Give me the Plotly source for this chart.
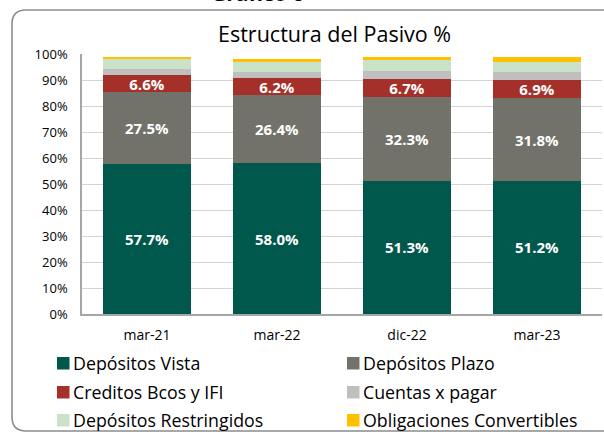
import plotly.graph_objects as go

# ---- data ----
categories = ["mar-21", "mar-22", "dic-22", "mar-23"]
series_names = ["Depósitos Vista", "Depósitos Plazo", "Creditos Bcos y IFI",
                "Cuentas x pagar", "Depósitos Restringidos", "Obligaciones Convertibles"]
depositos_vista = [57.7, 58.0, 51.3, 51.2]
depositos_plazo = [27.5, 26.4, 32.3, 31.8]
creditos_bcos = [6.6, 6.2, 6.7, 6.9]
cuentas_pagar = [2.3, 2.4, 3.3, 3.1]
depositos_restringidos = [3.9, 3.9, 4.0, 3.9]
obligaciones_convertibles = [0.8, 1.1, 1.3, 1.8]
y_ticks = [0, 10, 20, 30, 40, 50, 60, 70, 80, 90, 100]

values = [depositos_vista, depositos_plazo, creditos_bcos, cuentas_pagar,
          depositos_restringidos, obligaciones_convertibles]
colors = ["#00574B", "#72726A", "#A5302A", "#BFBFBF", "#C9E2C8", "#FFC000"]
labelled = [True, True, True, False, False, False]

FONT = "Open Sans"
W, H = 604, 437
L, R, T, B = 82, 2, 54, 123
PW, PH = W - L - R, H - T - B


def px(x):
    return (x - L) / PW


def py(y):
    return (H - B - y) / PH


fig = go.Figure()
for name, vals, col, lab in zip(series_names, values, colors, labelled):
    fig.add_trace(go.Bar(
        x=categories, y=vals, name=name,
        marker=dict(color=col, line=dict(width=0)),
        text=[f"{v:.1f}%" for v in vals] if lab else None,
        textposition="inside" if lab else "none",
        insidetextanchor="middle",
        textangle=0,
        constraintext="none",
        textfont=dict(family=FONT, size=15, color="white", weight="bold"),
        hoverinfo="name+y",
        showlegend=False,
    ))

# rounded border frame
x0, x1 = px(12), px(612)
y0, y1 = py(431), py(10)
rx, ry = 14 / PW, 14 / PH
path = (f"M {x0+rx},{y1} L {x1},{y1} L {x1},{y0} L {x0+rx},{y0} "
        f"Q {x0},{y0} {x0},{y0+ry} L {x0},{y1-ry} Q {x0},{y1} {x0+rx},{y1} Z")
shapes = [dict(type="path", path=path, xref="paper", yref="paper",
               line=dict(color="#8C8C8C", width=1.6), fillcolor="rgba(0,0,0,0)",
               layer="below")]

annotations = [
    dict(text="Estructura del Pasivo %", x=px(334), y=py(33), xref="paper", yref="paper",
         xanchor="center", yanchor="middle", showarrow=False,
         font=dict(family=FONT, size=21.5, color="#000000")),
    dict(text="<b>Gráfico 6</b>", x=px(257), y=py(9), xref="paper", yref="paper",
         xanchor="center", yanchor="bottom", showarrow=False,
         font=dict(family=FONT, size=21, color="#000000")),
]

# manual two-column legend
col_x = [57, 347]
row_y = [363, 392, 420]
for i, (name, col) in enumerate(zip(series_names, colors)):
    cx = col_x[i % 2]
    cy = row_y[i // 2]
    shapes.append(dict(type="rect", xref="paper", yref="paper",
                       x0=px(cx), x1=px(cx + 12.5), y0=py(cy + 6.5), y1=py(cy - 6),
                       fillcolor=col, line=dict(width=0)))
    annotations.append(dict(text=name, x=px(cx + 14), y=py(cy), xref="paper", yref="paper",
                            xanchor="left", yanchor="middle", showarrow=False,
                            font=dict(family=FONT, size=17.8, color="#000000")))

fig.update_layout(
    width=W, height=H,
    margin=dict(l=L, r=R, t=T, b=B, pad=0),
    barmode="stack",
    bargap=0.323,
    paper_bgcolor="white",
    plot_bgcolor="white",
    font=dict(family=FONT, color="#000000"),
    shapes=shapes,
    annotations=annotations,
    showlegend=False,
    xaxis=dict(
        type="category", showgrid=False, showline=True, linecolor="#A6A6A6", linewidth=1.5,
        ticks="", tickfont=dict(family=FONT, size=14, color="#000000"),
        ticklabelstandoff=7,
    ),
    yaxis=dict(
        range=[0, 100], tickvals=y_ticks, ticktext=[f"{v}%" for v in y_ticks],
        showgrid=True, gridcolor="#D4D4D4", gridwidth=1.2,
        showline=True, linecolor="#A6A6A6", linewidth=1.5,
        ticks="", tickfont=dict(family=FONT, size=13, color="#000000"),
        ticklabelstandoff=10, zeroline=False,
    ),
)

fig.write_html(
    "out.html",
    config={"displayModeBar": False},
    post_script="document.body.style.margin='0';document.body.style.overflow='hidden';",
)
